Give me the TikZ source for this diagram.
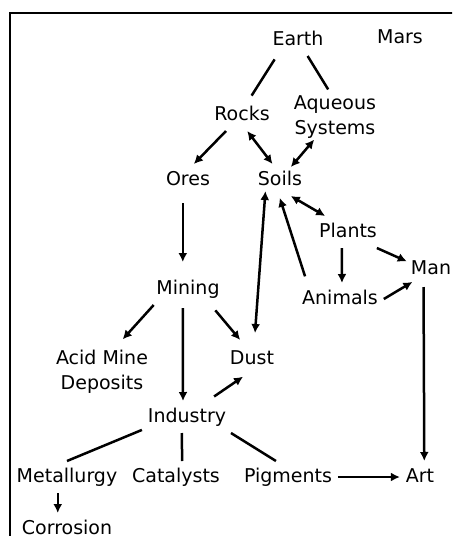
\documentclass[tikz,border=0pt]{standalone}
\usepackage{fontspec}
\setmainfont{DejaVu Sans}
\usetikzlibrary{arrows.meta}

\begin{document}
\begin{tikzpicture}[x=0.5pt, y=-0.5pt, line width=1.25pt,
    >={Latex[length=4.5pt, width=4.5pt]},
    font=\fontsize{9.5}{12.5}\selectfont,
    box/.style={inner sep=3pt, outer sep=0pt, text height=0.76em, text depth=0.24em},
    box2/.style={inner sep=3pt, outer sep=0pt, align=center}]
\useasboundingbox (0, 0) rectangle (452, 536);
\clip (0, 0) rectangle (452, 536);
\draw [line width=1pt] (10, 13) rectangle (480, 560);
\node [box] (earth) at (298, 40) {Earth};
\node [box] (mars) at (400, 38) {Mars};
\node [box] (rocks) at (242, 115) {Rocks};
\node [box2] (aqueous) at (335, 116.8) {Aqueous\\Systems};
\node [box] (ores) at (188, 180) {Ores};
\node [box] (soils) at (280, 180) {Soils};
\node [box] (plants) at (348, 232) {Plants};
\node [box] (man) at (431, 269) {Man};
\node [box] (mining) at (188, 289) {Mining};
\node [box] (animals) at (340, 299) {Animals};
\node [box2] (acid) at (102, 371.5) {Acid Mine\\Deposits};
\node [box] (dust) at (252, 359) {Dust};
\node [box] (industry) at (187, 417) {Industry};
\node [box] (metallurgy) at (67, 477) {Metallurgy};
\node [box] (catalysts) at (176, 477) {Catalysts};
\node [box] (pigments) at (288, 477) {Pigments};
\node [box] (art) at (420, 477) {Art};
\node [box] (corrosion) at (67, 529) {Corrosion};
\draw [shorten <=2pt, shorten >=2pt] (earth.217) -- (rocks.65);
\draw (earth.301) -- (aqueous.104);
\draw [->] (rocks.225) -- (ores.70);
\draw [<->] (rocks.288) -- (soils.115);
\draw [<->, shorten <=-3pt, shorten >=-2pt] (aqueous.228) -- (soils.50);
\draw [->, shorten <=3.5pt, shorten >=5.5pt] (ores.252) -- (mining.108);
\draw [<->, shorten <=-2.5pt, shorten >=5pt] (soils.227) -- (dust.82);
\draw [->, shorten <=3.5pt, shorten >=1pt] (animals.154) -- (soils.267);
\draw [<->] (soils.304) -- (plants.145);
\draw [->] (plants.249) -- (animals.83);
\draw [->, shorten >=-1pt] (plants.331) -- (man.162);
\draw [->, shorten >=-3pt] (animals.0) -- (man.214);
\draw [->, shorten >=3pt] (mining.205) -- (acid.59);
\draw [->, shorten <=1.5pt] (mining.252) -- (industry.104);
\draw [->, shorten <=3.5pt, shorten >=2pt] (mining.325) -- (dust.120);
\draw [->, shorten <=4pt, shorten >=1.5pt] (industry.38) -- (dust.248);
\draw (industry.196) -- (metallurgy.90);
\draw (industry.252) -- (catalysts.69);
\draw (industry.340) -- (pigments.127);
\draw [->] (pigments.east) -- (art.west);
\draw [->, shorten <=1pt] (man.245) -- (art.75);
\draw [->] (metallurgy.240) -- (corrosion.120);
\end{tikzpicture}
\end{document}
